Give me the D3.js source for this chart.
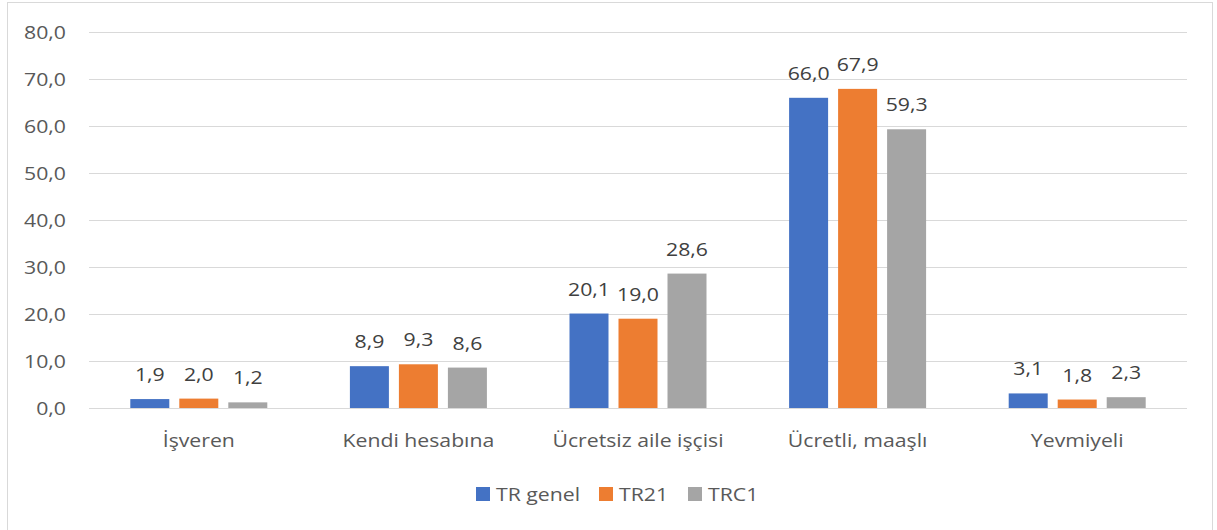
<!DOCTYPE html>
<html>
<head>
<meta charset="utf-8">
<script src="https://cdn.jsdelivr.net/npm/d3@7"></script>
<style>
  body { margin: 0; background: #fff; }
  svg { display: block; font-family: "Open Sans", sans-serif; }
</style>
</head>
<body>
<svg id="chart" width="1217" height="530"></svg>
<script>
'use strict';

var categories = ['İşveren', 'Kendi hesabına', 'Ücretsiz aile işçisi', 'Ücretli, maaşlı', 'Yevmiyeli'];
var seriesNames = ['TR genel', 'TR21', 'TRC1'];
var trGenel = [1.9, 8.9, 20.1, 66.0, 3.1];
var tr21 = [2.0, 9.3, 19.0, 67.9, 1.8];
var trc1 = [1.2, 8.6, 28.6, 59.3, 2.3];
var yTicks = [0, 10, 20, 30, 40, 50, 60, 70, 80];
var colors = ['#4472C4', '#ED7D31', '#A5A5A5'];

var seriesValues = [trGenel, tr21, trc1];
var fmt = function(v) { return d3.format('.1f')(v).replace('.', ','); };
// the reference text is a bit wider than Open Sans, so stretch it a little
var sx = 1.18;
var place = function(x, y) { return 'translate(' + x + ',' + y + ') scale(' + sx + ',1)'; };

var svg = d3.select('#chart');

// outer frame
svg.append('rect')
    .attr('x', 7.5).attr('y', 2.5)
    .attr('width', 1205).attr('height', 540)
    .attr('fill', 'none')
    .attr('stroke', '#D9D9D9');

var x0 = d3.scaleBand().domain(categories).range([89, 1187]);
var x1 = d3.scaleBand().domain(seriesNames).range([0, 137]).paddingInner(10 / 49);
var y = d3.scaleLinear().domain([0, 80]).range([408, 32]);

// gridlines
svg.append('g').selectAll('line')
    .data(yTicks)
    .enter()
    .append('line')
    .attr('x1', 89).attr('x2', 1187)
    .attr('y1', function(d) { return Math.round(y(d)) + 0.5; })
    .attr('y2', function(d) { return Math.round(y(d)) + 0.5; })
    .attr('stroke', '#D9D9D9')
    .attr('stroke-width', 1);

// y labels
svg.append('g').selectAll('text')
    .data(yTicks)
    .enter()
    .append('text')
    .attr('transform', function(d) { return place(66, y(d) + 6.5); })
    .attr('text-anchor', 'end')
    .attr('fill', '#595959')
    .style('font-size', '18px')
    .text(fmt);

var groups = svg.append('g').selectAll('g')
    .data(categories)
    .enter()
    .append('g')
    .attr('transform', function(d) {
        return 'translate(' + (x0(d) + x0.bandwidth() / 2 - 68.5) + ',0)';
    });

groups.selectAll('rect')
    .data(function(d, i) {
        return seriesNames.map(function(s, j) { return { s: s, v: seriesValues[j][i], c: colors[j] }; });
    })
    .enter()
    .append('rect')
    .attr('x', function(d) { return x1(d.s); })
    .attr('width', x1.bandwidth())
    .attr('y', function(d) { return y(d.v); })
    .attr('height', function(d) { return y(0) - y(d.v); })
    .attr('fill', function(d) { return d.c; });

groups.selectAll('text')
    .data(function(d, i) {
        return seriesNames.map(function(s, j) { return { s: s, v: seriesValues[j][i] }; });
    })
    .enter()
    .append('text')
    .attr('transform', function(d) { return place(x1(d.s) + x1.bandwidth() / 2, y(d.v) - 18); })
    .attr('text-anchor', 'middle')
    .attr('fill', '#404040')
    .style('font-size', '18px')
    .text(function(d) { return fmt(d.v); });

// category labels
svg.append('g').selectAll('text')
    .data(categories)
    .enter()
    .append('text')
    .attr('transform', function(d) { return place(x0(d) + x0.bandwidth() / 2, 447); })
    .attr('text-anchor', 'middle')
    .attr('fill', '#595959')
    .style('font-size', '18px')
    .text(function(d) { return d; });

// legend
var legendX = [476, 599, 688];
var legend = svg.append('g').selectAll('g')
    .data(seriesNames)
    .enter()
    .append('g')
    .attr('transform', function(d, i) { return 'translate(' + legendX[i] + ',487)'; });

legend.append('rect')
    .attr('width', 14).attr('height', 14)
    .attr('fill', function(d, i) { return colors[i]; });

legend.append('text')
    .attr('transform', place(20, 13.5))
    .attr('fill', '#595959')
    .style('font-size', '18px')
    .text(function(d) { return d; });
</script>
</body>
</html>
